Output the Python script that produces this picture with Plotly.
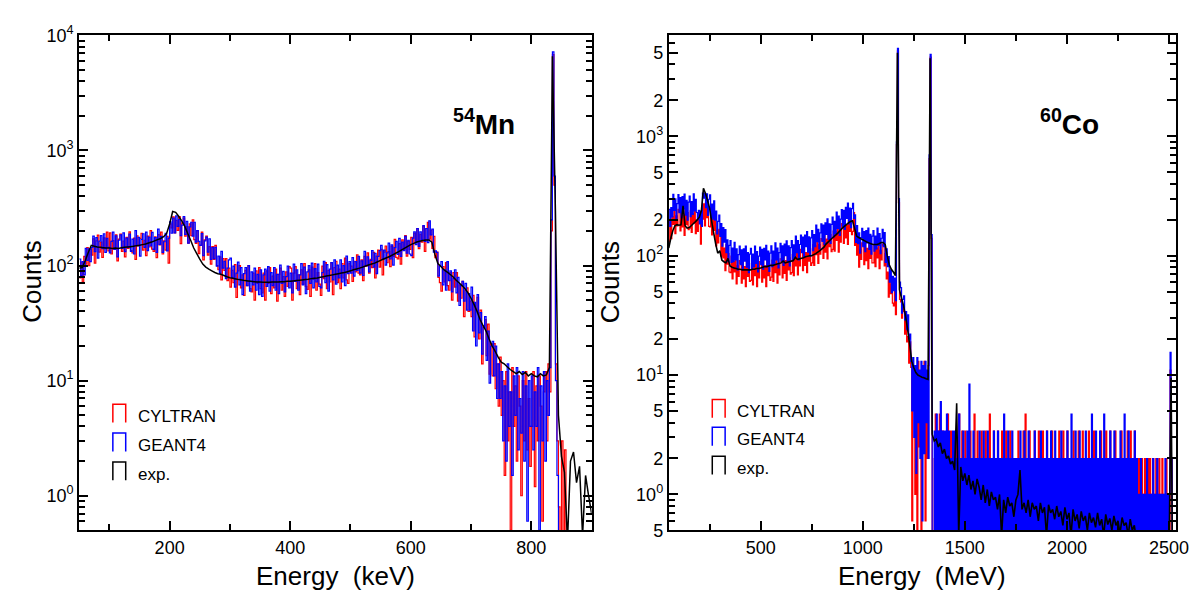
import numpy as np
import plotly.graph_objects as go

W, H = 1198, 594

# ======================= 54Mn panel (keV) =======================
# simulated spectra: 2.5 keV bins from 50 to 900 keV
E_MN_SIM = list(np.arange(50, 900.1, 2.5))
# measured spectrum: 5 keV bins from 50 to 900 keV
E_MN_EXP = list(range(50, 905, 5))

G4_MN = [
    114, 82, 108, 83, 141, 111, 140, 108, 144, 180, 132, 175, 116, 163, 182, 140, 189, 130, 172, 144,
    129, 162, 195, 138, 181, 119, 166, 185, 141, 192, 132, 173, 144, 188, 133, 170, 126, 201, 149, 176,
    121, 169, 189, 144, 195, 135, 177, 148, 194, 138, 175, 130, 207, 153, 179, 130, 161, 191, 134, 173,
    240, 191, 259, 192, 270, 219, 252, 182, 225, 267, 187, 242, 157, 217, 238, 180, 238, 160, 201, 162,
    150, 190, 122, 164, 177, 131, 171, 113, 143, 115, 144, 99, 121, 86, 133, 95, 109, 77, 95, 112,
    116, 79, 99, 65, 86, 107, 68, 96, 56, 85, 96, 67, 100, 60, 88, 68, 95, 61, 84, 56,
    92, 54, 83, 93, 66, 98, 60, 87, 67, 96, 61, 84, 57, 101, 70, 89, 59, 80, 99, 64,
    86, 58, 103, 73, 92, 61, 83, 104, 68, 97, 57, 88, 100, 70, 105, 64, 94, 72, 103, 66,
    64, 87, 109, 71, 102, 60, 93, 106, 75, 112, 69, 101, 78, 112, 72, 100, 67, 121, 85, 108,
    86, 117, 81, 108, 91, 120, 86, 110, 82, 133, 100, 119, 88, 111, 135, 97, 128, 85, 120, 135,
    150, 113, 136, 101, 129, 157, 114, 151, 101, 143, 162, 125, 172, 120, 160, 135, 179, 128, 166, 126,
    122, 173, 196, 152, 210, 147, 196, 167, 223, 162, 210, 158, 245, 185, 207, 131, 134, 130, 81, 99,
    108, 68, 92, 61, 108, 74, 90, 59, 77, 92, 58, 79, 45, 67, 73, 49, 70, 41, 57, 41,
    65, 27, 48, 20, 56, 26, 39, 17, 29, 36, 15, 27, 9.5, 20, 22, 11, 20, 7, 14, 7,
    12, 3, 9, 2, 14, 4, 8, 1.5, 11, 5, 13, 2.5, 7, 3.5, 12, 2, 9, 0.6, 10, 4,
    11, 2.5, 8, 4, 13, 0.5, 9, 3, 12, 2, 10, 5, 13, 250, 7200, 600, 10, 1.5, 0, 0,
    0, 0, 0, 0, 0, 0, 0, 0, 0, 0, 0, 0, 0, 0, 0, 0, 0, 0, 0, 0,
    0,
]

CYL_MN = [
    78, 107, 72, 120, 103, 143, 100, 139, 123, 171, 105, 164, 184, 131, 160, 118, 174, 140, 195, 134,
    192, 126, 165, 138, 185, 110, 170, 188, 133, 163, 119, 176, 141, 196, 135, 129, 173, 113, 181, 148,
    172, 191, 136, 166, 122, 180, 145, 201, 139, 133, 178, 117, 186, 151, 195, 126, 164, 136, 179, 105,
    230, 212, 265, 192, 247, 202, 266, 155, 235, 258, 180, 218, 157, 230, 182, 250, 168, 156, 201, 127,
    150, 195, 112, 167, 180, 123, 146, 103, 146, 113, 150, 100, 92, 119, 75, 115, 91, 115, 74, 95,
    65, 91, 71, 102, 53, 90, 100, 64, 83, 55, 91, 67, 100, 63, 59, 86, 50, 90, 70, 96,
    63, 58, 86, 50, 90, 70, 96, 57, 81, 64, 93, 49, 84, 95, 61, 80, 54, 88, 66, 98,
    95, 50, 86, 98, 63, 83, 56, 92, 69, 104, 66, 62, 92, 54, 97, 76, 104, 61, 87, 69,
    55, 99, 77, 106, 63, 91, 72, 106, 56, 96, 109, 71, 93, 63, 104, 78, 116, 75, 70, 104,
    99, 73, 109, 88, 124, 86, 83, 112, 74, 120, 99, 129, 86, 113, 96, 130, 78, 121, 136, 97,
    138, 83, 131, 148, 106, 132, 98, 147, 120, 169, 118, 114, 155, 103, 167, 138, 182, 121, 162, 138,
    176, 117, 191, 159, 210, 140, 187, 160, 219, 133, 210, 238, 170, 203, 141, 179, 117, 131, 79, 71,
    60, 98, 72, 106, 67, 61, 87, 50, 87, 65, 87, 49, 68, 52, 73, 36, 61, 64, 40, 49,
    36, 55, 24, 41, 53, 23, 41, 14, 30, 34, 16.5, 31, 11.4, 21, 11, 21, 8.5, 14, 6, 16,
    5, 10, 1.5, 12, 3, 8, 0.5, 13, 4, 9, 2, 11, 6, 1, 10, 3, 12, 2.5, 7, 1.8,
    4, 12, 1.2, 9, 3, 11, 6, 0.6, 8, 12, 3, 14, 8, 200, 6800, 500, 14, 3, 0.8, 0,
    3, 0, 2.5, 0, 0, 0, 0, 0, 0, 0, 0, 0, 0, 0, 0, 0, 0, 0, 0, 0,
    0,
]

EXP_MN = [
    95, 96, 110, 130, 150, 147, 145, 144, 143, 142,
    142, 141, 142, 141, 143, 144, 145, 146, 147, 149,
    150, 152, 154, 157, 160, 164, 168, 172, 178, 190,
    230, 295, 290, 268, 245, 220, 190, 165, 142, 127,
    114, 103, 97, 93, 90, 87, 85, 84, 82, 80,
    78.5, 77.5, 76.5, 75.5, 75, 74, 73.5, 73, 72.5, 72,
    72, 71.5, 71.5, 71.5, 72, 72, 72, 72.5, 72.5, 73,
    73, 73.5, 74, 74.5, 75, 75.5, 76, 77, 77.5, 78,
    79, 80, 81, 82, 83, 84, 85, 86, 87, 88.5,
    90, 92, 93.5, 95, 97, 99, 101, 103, 105, 108,
    111, 114, 117, 120, 124, 128, 132, 137, 142, 147,
    152, 156, 160, 163, 165, 167, 167, 160, 125, 104,
    98, 92, 88, 84, 80, 75, 71, 67, 63, 58,
    52, 46, 40, 34, 30, 27, 23, 20, 18, 16,
    14.5, 14, 13.2, 12.5, 12, 11.5, 12, 11.3, 11.8, 11,
    11.5, 11, 10.8, 11.5, 11, 11.2, 13, 6600, 300, 5,
    2.2, 1.6, 0.4, 2.0, 2.4, 1.3, 1.8, 0.45, 1.5, 1.0,
    0.7,
]

# ======================= 60Co panel =======================
# simulated spectra: 5-unit bins from 50 to 2550
E_CO_SIM = list(range(50, 2555, 5))
# measured spectrum: 10-unit bins from 50 to 2550
E_CO_EXP = list(range(50, 2560, 10))

G4_CO = [
    244, 176, 253, 211, 326, 239, 299, 203, 273, 325,
    229, 307, 208, 312, 247, 328, 218, 291, 198, 281,
    315, 212, 284, 222, 330, 237, 297, 230, 200, 240,
    185, 236, 176, 335, 304, 335, 252, 330, 217, 297,
    323, 209, 270, 202, 288, 198, 236, 152, 194, 219,
    145, 186, 120, 172, 130, 165, 106, 136, 89, 122,
    134, 88, 116, 89, 129, 92, 114, 76, 102, 120,
    84, 112, 76, 114, 90, 120, 80, 106, 72, 103,
    115, 77, 103, 81, 120, 86, 108, 73, 99, 118,
    84, 113, 77, 115, 92, 122, 81, 109, 74, 105,
    121, 81, 109, 86, 128, 92, 116, 79, 106, 127,
    90, 121, 83, 125, 100, 133, 90, 121, 82, 117,
    134, 91, 123, 97, 146, 106, 134, 92, 124, 149,
    106, 143, 98, 149, 119, 159, 107, 144, 99, 141,
    162, 110, 150, 119, 180, 131, 166, 114, 155, 185,
    132, 180, 124, 188, 151, 203, 137, 185, 127, 183,
    210, 143, 194, 154, 232, 169, 215, 148, 202, 243,
    176, 240, 166, 254, 205, 276, 185, 250, 172, 248,
    275, 205, 220, 129, 179, 126, 155, 105, 142, 169,
    119, 159, 108, 162, 128, 170, 113, 151, 103, 146,
    162, 109, 146, 114, 170, 122, 153, 104, 140, 166,
    119, 156, 88, 114, 81, 98, 60, 76, 49, 67,
    51, 65, 42, 900, 5450, 300, 60, 54, 33, 43,
    46, 29, 34, 24, 32, 20, 22, 13, 5, 14,
    3, 12, 1.5, 14, 4, 11, 2, 13, 0.6, 12,
    2.2, 13, 4, 11, 2, 700, 4850, 150, 0, 0,
    3.4, 0, 4.7, 0, 3.4, 0, 6.0, 0, 3.4, 0,
    3.4, 0, 4.7, 0, 3.4, 0, 2, 0, 3.4, 0,
    3.4, 0, 2, 0, 4.7, 0, 2, 0, 3.4, 0,
    2, 0, 3.4, 0, 8.4, 0, 2, 0, 3.4, 0,
    2, 0, 2, 0, 3.4, 0, 2, 0, 3.4, 0,
    2, 0, 3.4, 0, 2, 0, 2, 0, 3.4, 0,
    2, 0, 3.4, 0, 2, 0, 2, 0, 4.7, 0,
    2, 0, 3.4, 0, 2, 0, 3.4, 0, 2, 0,
    2, 0, 2, 0, 3.4, 0, 2, 0, 3.4, 0,
    2, 0, 3.4, 0, 2, 0, 2, 0, 3.4, 0,
    2, 0, 2, 0, 3.4, 0, 2, 0, 2, 0,
    3.4, 0, 2, 0, 3.4, 0, 2, 0, 3.4, 0,
    2, 0, 2, 0, 3.4, 0, 2, 0, 2, 0,
    3.4, 0, 2, 0, 4.7, 0, 2, 0, 3.4, 0,
    2, 0, 3.4, 0, 2, 0, 2, 0, 3.4, 0,
    2, 0, 2, 0, 4.7, 0, 2, 0, 3.4, 0,
    2, 0, 3.4, 0, 2, 0, 4.7, 0, 2, 0,
    2, 0, 3.4, 0, 2, 0, 3.4, 0, 2, 0,
    2, 0, 3.4, 0, 2, 0, 4.7, 0, 2, 0,
    3.4, 0, 2, 0, 2, 0, 3.4, 0, 2, 0,
    1, 0, 2, 0, 1, 0, 1, 0, 2, 0,
    1, 0, 1, 0, 2, 0, 1, 0, 2, 0,
    1, 0, 1, 0, 1, 0, 2, 0, 1, 0,
    1, 15.5, 2, 0, 0, 0, 0, 0, 0, 0,
    0,
]

CYL_CO = [
    132, 197, 139, 212, 183, 250, 153, 216, 178, 244,
    233, 161, 246, 174, 220, 148, 254, 182, 229, 165,
    170, 237, 157, 225, 187, 250, 153, 200, 160, 200,
    189, 125, 209, 202, 272, 178, 280, 208, 253, 176,
    174, 234, 149, 205, 163, 208, 121, 163, 128, 166,
    149, 99, 143, 96, 116, 75, 124, 85, 104, 73,
    72, 99, 64, 89, 73, 97, 58, 82, 67, 91,
    86, 59, 90, 64, 81, 55, 94, 67, 84, 61,
    62, 86, 57, 82, 68, 91, 55, 79, 65, 89,
    87, 60, 92, 65, 82, 55, 95, 68, 85, 62,
    66, 92, 61, 87, 72, 97, 59, 84, 69, 94,
    94, 65, 100, 71, 91, 62, 106, 76, 96, 70,
    72, 102, 68, 98, 82, 111, 69, 99, 82, 113,
    108, 75, 116, 83, 106, 72, 125, 90, 114, 83,
    87, 124, 83, 121, 102, 139, 86, 124, 103, 139,
    135, 95, 148, 107, 138, 94, 163, 119, 150, 108,
    113, 161, 109, 158, 134, 182, 107, 155, 130, 186,
    180, 127, 195, 141, 180, 124, 220, 160, 204, 150,
    160, 230, 122, 130, 101, 132, 80, 113, 93, 128,
    122, 84, 129, 91, 115, 78, 133, 95, 120, 87,
    87, 122, 81, 116, 96, 129, 78, 111, 92, 125,
    122, 82, 104, 64, 73, 45, 71, 48, 57, 40,
    38, 50, 32, 850, 5200, 280, 43, 41, 30, 38,
    34, 22, 29, 19, 21, 12.6, 19, 11.6, 0.6, 8,
    12, 1, 10, 0.5, 13, 2.5, 9, 0, 11, 3,
    13, 0.6, 10, 2, 12, 650, 4600, 140, 0, 0,
    2, 4.7, 0, 3.4, 2, 4.7, 0, 2, 3.4, 1,
    2, 0, 3.4, 4.7, 0, 2, 3.4, 1, 2, 0,
    2, 3.4, 0, 2, 4.7, 0, 2, 3.4, 0, 2,
    3.4, 0, 2, 1, 2, 3.4, 0, 2, 1, 4.7,
    2, 0, 3.4, 1, 2, 0, 3.4, 2, 0, 2,
    3.4, 1, 2, 0, 4.7, 2, 0, 2, 3.4, 1,
    0, 2, 3.4, 0, 2, 1, 3.4, 0, 2, 2,
    3.4, 0, 2, 1, 3.4, 2, 0, 2, 1, 2,
    2, 0, 3.4, 0, 2, 2, 1, 3.4, 0, 4.7,
    0, 2, 1, 3.4, 0, 2, 2, 0, 3.4, 1,
    2, 0, 3.4, 1, 2, 0, 3.4, 2, 0, 2,
    3.4, 1, 0, 2, 0, 3.4, 2, 1, 0, 2,
    2, 0, 3.4, 1, 0, 2, 3.4, 0, 2, 1,
    3.4, 0, 2, 0, 2, 1, 3.4, 2, 0, 2,
    0, 3.4, 1, 0, 2, 3.4, 1, 0, 2, 2,
    0, 3.4, 0, 2, 1, 0, 3.4, 2, 0, 1,
    2, 0, 1, 3.4, 0, 2, 0, 1, 3.4, 0,
    2, 0, 3.4, 1, 0, 2, 1, 3.4, 0, 1,
    2, 1, 0, 3.4, 2, 0, 1, 0, 2, 3.4,
    0, 1, 3.4, 0, 1, 2, 3.4, 0, 2, 1,
    2, 0, 1, 2, 0, 1, 2, 0, 1, 2,
    0, 2, 0, 1, 2, 0, 1, 2, 0, 1,
    2, 0, 1, 2, 0, 1, 0, 2, 0, 1,
    0, 11, 2, 0, 0, 0, 0, 0, 0, 0,
    0,
]

EXP_CO = [
    116, 140, 162, 178, 182, 180, 181, 262, 178, 170,
    172, 178, 185, 192, 200, 210, 240, 366, 332, 290,
    250, 195, 155, 125, 105, 110, 92, 89, 87, 95,
    82, 80, 79, 78, 77, 77, 76, 76, 76, 76,
    76, 77, 77, 78, 78, 79, 80, 81, 81, 82,
    83, 83, 84, 85, 86, 87, 90, 87, 88, 89,
    90, 91, 97, 93, 94, 95, 96, 98, 99, 100,
    100, 102, 104, 107, 110, 114, 118, 125, 130, 135,
    140, 145, 150, 156, 163, 170, 176, 182, 188, 193,
    196, 170, 146, 142, 139, 136, 133, 130, 128, 126,
    124, 124, 124, 126, 129, 129, 124, 100, 84, 77,
    73, 68, 5000, 52, 44, 38, 31, 24, 18, 13,
    11.5, 10.5, 10, 9.8, 9.6, 9.5, 9.3, 9.2, 4500, 3.2,
    2.8, 2.9, 2.5, 2.7, 2.2, 2.4, 2.0, 2.1, 1.8, 1.9,
    1.6, 5.8, 0.45, 1.7, 1.3, 1.5, 1.2, 1.45, 1.1, 1.3,
    1.0, 1.35, 1.15, 0.9, 1.2, 0.85, 1.1, 0.8, 1.05, 0.9,
    0.95, 0.75, 1.0, 0.45, 0.9, 0.7, 0.95, 0.8, 0.85, 0.65,
    0.9, 1.0, 1.6, 0.75, 0.85, 0.7, 0.9, 0.65, 0.85, 0.75,
    0.8, 0.6, 0.85, 0.7, 0.78, 0.45, 0.82, 0.7, 0.75, 0.62,
    0.8, 0.65, 0.72, 0.55, 0.78, 0.62, 0.7, 0.45, 0.75, 0.6,
    0.68, 0.52, 0.72, 0.6, 0.66, 0.5, 0.7, 0.58, 0.64, 0.53,
    0.7, 0.55, 0.62, 0.45, 0.68, 0.56, 0.63, 0.5, 0.66, 0.55,
    0.6, 0.47, 0.64, 0.55, 0.58, 0.45, 0.62, 0.5, 0.55, 0.42,
    0.5, 0.35, 0.45, 0, 0.4, 0, 0, 0.3, 0, 0,
    0, 0, 0, 0, 0, 0.3, 9.5, 0, 0, 0,
    0,
]

SERIES_NAMES = ["CYLTRAN", "GEANT4", "exp."]
COLORS = ["#ff0000", "#0000ff", "#000000"]

# empty bins are drawn down past the bottom of the log axis
FLOOR = 0.05

assert len(E_MN_SIM) == len(G4_MN) == len(CYL_MN)
assert len(E_MN_EXP) == len(EXP_MN)
assert len(E_CO_SIM) == len(G4_CO) == len(CYL_CO)
assert len(E_CO_EXP) == len(EXP_CO)


def shown(v):
    a = np.asarray(v, dtype=float)
    return np.where(a > 0, a, FLOOR)


fig = go.Figure()


def add_line(xs, vals, col, wid, xa, ya, shape):
    fig.add_trace(go.Scatter(
        x=xs, y=shown(vals), mode="lines", xaxis=xa, yaxis=ya,
        line=dict(color=col, width=wid, simplify=False, shape=shape),
        showlegend=False, hoverinfo="skip"))


# simulated spectra drawn as histograms (steps), measured as a line
add_line(E_MN_SIM, CYL_MN, COLORS[0], 1.2, "x", "y", "hv")
add_line(E_MN_SIM, G4_MN, COLORS[1], 1.2, "x", "y", "hv")
add_line(E_MN_EXP, EXP_MN, COLORS[2], 1.5, "x", "y", "linear")
add_line(E_CO_SIM, CYL_CO, COLORS[0], 1.2, "x2", "y2", "hv")
add_line(E_CO_SIM, G4_CO, COLORS[1], 1.2, "x2", "y2", "hv")
add_line(E_CO_EXP, EXP_CO, COLORS[2], 1.6, "x2", "y2", "linear")

FONT = "Liberation Sans, Arial, sans-serif"


def px_x(p):
    return p / W


def px_y(p):
    return 1 - p / H


def dec_minor(lo, hi):
    out = []
    for e in range(lo, hi + 1):
        for m in range(2, 10):
            out.append(m * 10 ** e)
    return out


common_axis = dict(
    showline=True, linecolor="black", linewidth=2, mirror="allticks",
    ticks="inside", ticklen=9, tickwidth=2, tickcolor="black",
    showgrid=False, zeroline=False,
    tickfont=dict(family=FONT, size=18, color="black"),
)
minor_style = dict(ticks="inside", ticklen=6, tickwidth=1.5, tickcolor="black", showgrid=False)

ydom = [px_y(530), px_y(16)]

fig.update_layout(
    xaxis=dict(domain=[px_x(72), px_x(590)], range=[50, 900], anchor="y",
               tickmode="array", tickvals=[200, 400, 600, 800],
               minor=dict(tickmode="array", tickvals=[100, 300, 500, 700, 900], **minor_style),
               **common_axis),
    yaxis=dict(domain=ydom, type="log", range=[np.log10(0.5), 4], anchor="x",
               tickmode="array", tickvals=[1, 10, 100, 1000, 10000],
               ticktext=["10<sup>0</sup>", "10<sup>1</sup>", "10<sup>2</sup>",
                         "10<sup>3</sup>", "10<sup>4</sup>"],
               minor=dict(tickmode="array",
                          tickvals=[0.5, 0.6, 0.7, 0.8, 0.9] + dec_minor(0, 3), **minor_style),
               **common_axis),
)

co_major = [0.5, 1, 2, 5, 10, 20, 50, 100, 200, 500, 1000, 2000, 5000]
co_text = ["5", "10<sup>0</sup>", "2", "5", "10<sup>1</sup>", "2", "5",
           "10<sup>2</sup>", "2", "5", "10<sup>3</sup>", "2", "5"]
co_minor = [0.6, 0.7, 0.8, 0.9]
for e in range(0, 4):
    for m in (3, 4, 6, 7, 8, 9):
        co_minor.append(m * 10 ** e)

fig.update_layout(
    xaxis2=dict(domain=[px_x(668), px_x(1181)], range=[50, 2535], anchor="y2",
                tickmode="array", tickvals=[500, 1000, 1500, 2000, 2500],
                minor=dict(tickmode="array", tickvals=[250, 750, 1250, 1750, 2250], **minor_style),
                **common_axis),
    yaxis2=dict(domain=ydom, type="log", range=[np.log10(0.5), np.log10(7000)], anchor="x2",
                tickmode="array", tickvals=co_major, ticktext=co_text,
                minor=dict(tickmode="array", tickvals=co_minor, **minor_style),
                **common_axis),
)

annotations = []
shapes = []


def text_at(x, y, txt, size, bold=False, angle=0, xanchor="center"):
    annotations.append(dict(
        xref="paper", yref="paper", x=px_x(x), y=px_y(y),
        text=("<b>%s</b>" % txt) if bold else txt,
        showarrow=False, xanchor=xanchor, yanchor="middle", textangle=angle,
        font=dict(family=FONT, size=size, color="black")))


text_at(331, 577, "Energy\u00a0 (keV)", 26)
text_at(924, 577, "Energy\u00a0 (MeV)", 26)
text_at(24, 272, "Counts", 26, angle=-90)
text_at(609, 272, "Counts", 26, angle=-90)

text_at(481, 106, "<sup>54</sup>Mn", 28, bold=True)
text_at(1073, 106, "<sup>60</sup>Co", 28, bold=True)


def legend_block(xsym, xtext, yrows):
    for name, col, yc in zip(SERIES_NAMES, COLORS, yrows):
        x0, x1 = px_x(xsym), px_x(xsym + 13)
        yb, yt = px_y(yc + 6), px_y(yc - 13)
        shapes.append(dict(type="path", xref="paper", yref="paper",
                           path="M %f,%f L %f,%f L %f,%f L %f,%f" % (x0, yb, x0, yt, x1, yt, x1, yb),
                           line=dict(color=col, width=1.5)))
        text_at(xtext, yc, name, 17, xanchor="left")


legend_block(106, 129, [412, 442, 472])
legend_block(712, 735, [407, 436, 466])

fig.update_layout(
    width=W, height=H, margin=dict(l=0, r=0, t=0, b=0),
    paper_bgcolor="white", plot_bgcolor="white",
    annotations=annotations, shapes=shapes, showlegend=False,
)

fig.write_html("out.html")
